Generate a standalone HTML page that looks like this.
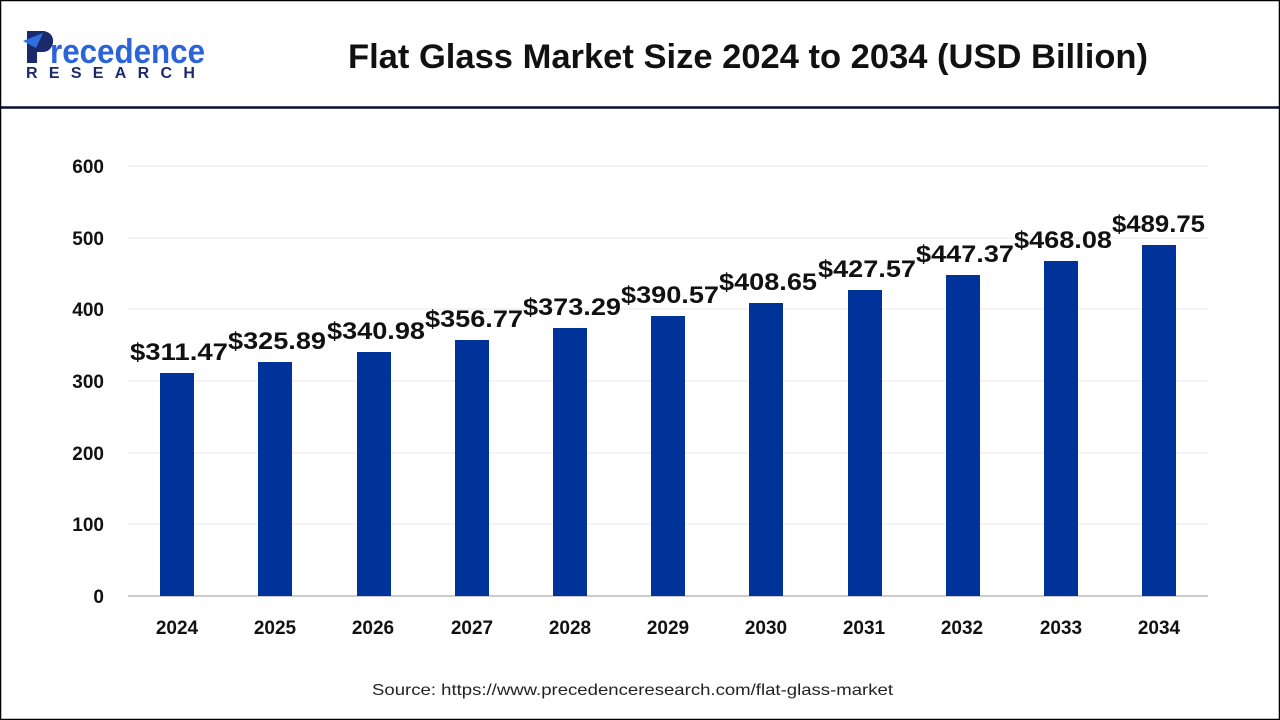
<!DOCTYPE html>
<html><head><meta charset="utf-8"><style>
body{margin:0;background:#fff}
svg{display:block;font-family:"Liberation Sans",Arial,sans-serif}
</style></head><body>
<svg width="1280" height="720" viewBox="0 0 1280 720" xmlns="http://www.w3.org/2000/svg">
<rect x="0.5" y="0.5" width="1279" height="719" fill="#fff" stroke="#000" stroke-width="1.5"/>
<line x1="1" y1="107.5" x2="1279" y2="107.5" stroke="#0d0d33" stroke-width="2.5"/>
<!-- logo -->
<path d="M27 31 L44 31 Q54 33 53 43 Q51 52 42 52 L37 52 L37 63 L27 63 Z" fill="#1a2a6c"/>
<path d="M23 41 L43 33 L36 48 Z" fill="#2f6fe0"/>
<text x="50" y="63" font-size="34" font-weight="bold" fill="#2b63d8" textLength="155" lengthAdjust="spacingAndGlyphs">recedence</text>
<text x="26" y="78" font-size="16" font-weight="bold" fill="#1a2a6c" letter-spacing="11.3">RESEARCH</text>
<text x="348" y="68" font-size="34" font-weight="bold" fill="#111" textLength="800" lengthAdjust="spacingAndGlyphs">Flat Glass Market Size 2024 to 2034 (USD Billion)</text>
<g stroke="#e8e8e8" stroke-width="1">
<line x1="128" y1="166" x2="1208" y2="166"/><line x1="128" y1="238" x2="1208" y2="238"/>
<line x1="128" y1="309" x2="1208" y2="309"/><line x1="128" y1="381" x2="1208" y2="381"/>
<line x1="128" y1="453" x2="1208" y2="453"/><line x1="128" y1="524" x2="1208" y2="524"/>
</g>
<line x1="128" y1="596" x2="1208" y2="596" stroke="#bbb" stroke-width="1.5"/>
<g font-size="19" font-weight="bold" fill="#111" text-anchor="end">
<text x="104" y="173">600</text><text x="104" y="245">500</text><text x="104" y="316">400</text>
<text x="104" y="388">300</text><text x="104" y="460">200</text><text x="104" y="531">100</text><text x="104" y="603">0</text>
</g>
<g fill="#003399">
<rect x="160" y="373" width="34" height="223"/>
<rect x="258" y="362" width="34" height="234"/>
<rect x="357" y="352" width="34" height="244"/>
<rect x="455" y="340" width="34" height="256"/>
<rect x="553" y="328" width="34" height="268"/>
<rect x="651" y="316" width="34" height="280"/>
<rect x="749" y="303" width="34" height="293"/>
<rect x="848" y="290" width="34" height="306"/>
<rect x="946" y="275" width="34" height="321"/>
<rect x="1044" y="261" width="34" height="335"/>
<rect x="1142" y="245" width="34" height="351"/>
</g>
<g font-size="24" font-weight="bold" fill="#111" lengthAdjust="spacingAndGlyphs">
<text x="130" y="360" textLength="98" lengthAdjust="spacingAndGlyphs">$311.47</text><text x="228" y="349" textLength="98" lengthAdjust="spacingAndGlyphs">$325.89</text><text x="327" y="339" textLength="98" lengthAdjust="spacingAndGlyphs">$340.98</text>
<text x="425" y="327" textLength="98" lengthAdjust="spacingAndGlyphs">$356.77</text><text x="523" y="315" textLength="98" lengthAdjust="spacingAndGlyphs">$373.29</text><text x="621" y="303" textLength="98" lengthAdjust="spacingAndGlyphs">$390.57</text>
<text x="719" y="290" textLength="98" lengthAdjust="spacingAndGlyphs">$408.65</text><text x="818" y="277" textLength="98" lengthAdjust="spacingAndGlyphs">$427.57</text><text x="916" y="262" textLength="98" lengthAdjust="spacingAndGlyphs">$447.37</text>
<text x="1014" y="248" textLength="98" lengthAdjust="spacingAndGlyphs">$468.08</text><text x="1112" y="232" textLength="93" lengthAdjust="spacingAndGlyphs">$489.75</text>
</g>
<g font-size="19" font-weight="bold" fill="#111" text-anchor="middle">
<text x="177" y="634">2024</text><text x="275" y="634">2025</text><text x="373" y="634">2026</text>
<text x="472" y="634">2027</text><text x="570" y="634">2028</text><text x="668" y="634">2029</text>
<text x="766" y="634">2030</text><text x="864" y="634">2031</text><text x="962" y="634">2032</text>
<text x="1061" y="634">2033</text><text x="1159" y="634">2034</text>
</g>
<text x="372" y="695" font-size="16" fill="#222" textLength="521" lengthAdjust="spacingAndGlyphs">Source: https://www.precedenceresearch.com/flat-glass-market</text>
</svg>
</body></html>
